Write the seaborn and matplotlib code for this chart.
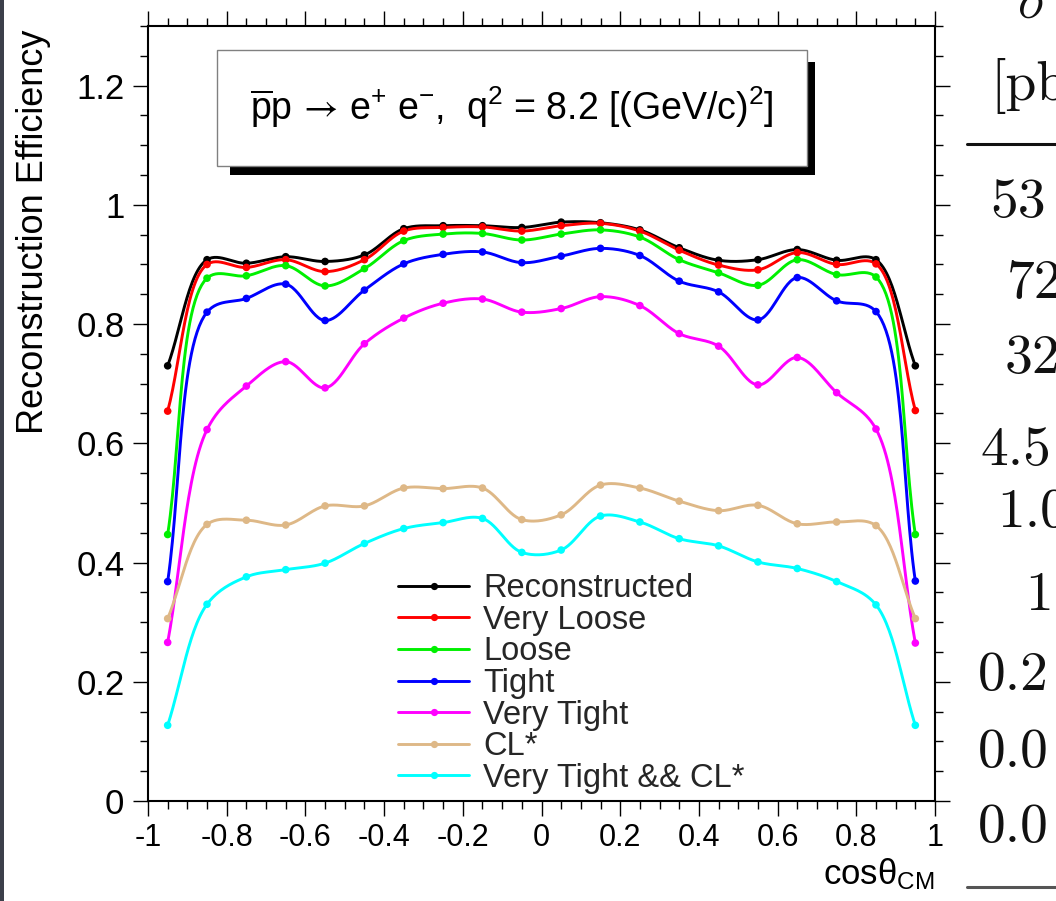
import numpy as np
import pandas as pd
import matplotlib
matplotlib.use("Agg")
import matplotlib.pyplot as plt
from matplotlib.lines import Line2D
from matplotlib.patches import Rectangle
from matplotlib.ticker import MultipleLocator, FuncFormatter
import seaborn as sns

# ---- data -------------------------------------------------------------
cos_theta = [-0.95, -0.85, -0.75, -0.65, -0.55, -0.45, -0.35, -0.25, -0.15, -0.05,
             0.05, 0.15, 0.25, 0.35, 0.45, 0.55, 0.65, 0.75, 0.85, 0.95]

reconstructed = [0.730, 0.908, 0.902, 0.913, 0.905, 0.916, 0.960, 0.965, 0.965, 0.962,
                 0.971, 0.970, 0.958, 0.928, 0.907, 0.908, 0.925, 0.907, 0.908, 0.730]
very_loose = [0.654, 0.900, 0.895, 0.908, 0.888, 0.908, 0.956, 0.962, 0.963, 0.956,
              0.965, 0.969, 0.956, 0.924, 0.899, 0.891, 0.920, 0.900, 0.901, 0.655]
loose = [0.447, 0.877, 0.881, 0.898, 0.864, 0.893, 0.940, 0.951, 0.952, 0.941,
         0.951, 0.958, 0.946, 0.908, 0.886, 0.865, 0.908, 0.883, 0.879, 0.447]
tight = [0.368, 0.820, 0.843, 0.867, 0.806, 0.857, 0.901, 0.917, 0.921, 0.903,
         0.914, 0.927, 0.915, 0.872, 0.854, 0.807, 0.878, 0.839, 0.821, 0.369]
very_tight = [0.266, 0.623, 0.696, 0.737, 0.693, 0.767, 0.810, 0.835, 0.842, 0.820,
              0.826, 0.846, 0.831, 0.784, 0.763, 0.698, 0.744, 0.685, 0.624, 0.265]
cl_star = [0.306, 0.464, 0.471, 0.463, 0.495, 0.495, 0.525, 0.524, 0.525, 0.472,
           0.480, 0.530, 0.525, 0.503, 0.487, 0.496, 0.465, 0.468, 0.462, 0.306]
very_tight_cl = [0.127, 0.330, 0.376, 0.388, 0.399, 0.432, 0.457, 0.467, 0.474, 0.417,
                 0.421, 0.478, 0.468, 0.440, 0.428, 0.401, 0.390, 0.368, 0.329, 0.127]

series_names = ["Reconstructed", "Very Loose", "Loose", "Tight", "Very Tight",
                "CL*", "Very Tight && CL*"]
series_values = [reconstructed, very_loose, loose, tight, very_tight, cl_star, very_tight_cl]
series_colors = ["#000000", "#ff0000", "#00f000", "#0000ff", "#ff00ff", "#deb887", "#00ffff"]

x_ticks = [-1, -0.8, -0.6, -0.4, -0.2, 0, 0.2, 0.4, 0.6, 0.8, 1]
y_ticks = [0, 0.2, 0.4, 0.6, 0.8, 1.0, 1.2]

# neighbouring table column (partially visible at the right edge)
table_rows = ["53", "72", "32", "4.5", "1.0", "1", "0.2", "0.0", "0.0"]

# ---- style -------------------------------------------------------------
sns.set_theme(style="ticks")
plt.rcParams["font.family"] = ["Liberation Sans", "DejaVu Sans"]
plt.rcParams["axes.unicode_minus"] = False
plt.rcParams["mathtext.fontset"] = "custom"
plt.rcParams["mathtext.rm"] = "Liberation Sans"
plt.rcParams["mathtext.it"] = "Liberation Sans:italic"
plt.rcParams["mathtext.bf"] = "Liberation Sans:bold"
plt.rcParams["mathtext.sf"] = "STIXGeneral"

W, H = 1056, 901
fig = plt.figure(figsize=(W / 100, H / 100), dpi=100)
fig.patch.set_facecolor("white")

ax_l, ax_r, ax_t, ax_b = 148, 935, 26, 801
ax = fig.add_axes([ax_l / W, (H - ax_b) / H, (ax_r - ax_l) / W, (ax_b - ax_t) / H])
ax.set_facecolor("white")
ax.set_xlim(-1, 1)
ax.set_ylim(0, 1.3)


def smooth_path(xs, ys, n=30, alpha=0.5):
    """Centripetal Catmull-Rom curve through the points, built in display space."""
    pts = ax.transData.transform(np.column_stack([xs, ys]))
    ext = np.vstack([2 * pts[0] - pts[1], pts, 2 * pts[-1] - pts[-2]])
    out = [pts[:1]]
    for i in range(1, len(ext) - 2):
        p0, p1, p2, p3 = ext[i - 1:i + 3]
        t0 = 0.0
        t1 = t0 + np.linalg.norm(p1 - p0) ** alpha
        t2 = t1 + np.linalg.norm(p2 - p1) ** alpha
        t3 = t2 + np.linalg.norm(p3 - p2) ** alpha
        t = np.linspace(t1, t2, n)[1:, None]
        a1 = (t1 - t) / (t1 - t0) * p0 + (t - t0) / (t1 - t0) * p1
        a2 = (t2 - t) / (t2 - t1) * p1 + (t - t1) / (t2 - t1) * p2
        a3 = (t3 - t) / (t3 - t2) * p2 + (t - t2) / (t3 - t2) * p3
        b1 = (t2 - t) / (t2 - t0) * a1 + (t - t0) / (t2 - t0) * a2
        b2 = (t3 - t) / (t3 - t1) * a2 + (t - t1) / (t3 - t1) * a3
        out.append((t2 - t) / (t2 - t1) * b1 + (t - t1) / (t2 - t1) * b2)
    curve = ax.transData.inverted().transform(np.vstack(out))
    return curve[:, 0], curve[:, 1]


points = pd.DataFrame(
    [(x, v, name) for name, vals in zip(series_names, series_values)
     for x, v in zip(cos_theta, vals)],
    columns=["cos_theta", "efficiency", "selection"],
)

for name, color in zip(series_names, series_colors):
    sub = points[points["selection"] == name]
    cx, cy = smooth_path(sub["cos_theta"].to_numpy(), sub["efficiency"].to_numpy())
    sns.lineplot(x=cx, y=cy, ax=ax, color=color, lw=2.1, sort=False,
                 estimator=None, legend=False, zorder=3)
    sns.scatterplot(data=sub, x="cos_theta", y="efficiency", ax=ax, color=color,
                    s=30, edgecolor="none", linewidth=0, legend=False, zorder=4)

# ---- axes ----------------------------------------------------------------
ax.set_xticks(x_ticks)
ax.set_yticks(y_ticks)
ax.xaxis.set_minor_locator(MultipleLocator(0.05))
ax.yaxis.set_minor_locator(MultipleLocator(0.05))
fmt = FuncFormatter(lambda v, pos: "%g" % round(v, 6))
ax.xaxis.set_major_formatter(fmt)
ax.yaxis.set_major_formatter(fmt)
ax.tick_params(axis="both", which="both", direction="out", color="black",
               top=True, right=True, labeltop=False, labelright=False)
ax.tick_params(axis="both", which="major", length=11, width=1.0, labelcolor="black")
ax.tick_params(axis="both", which="minor", length=5.5, width=1.0)
ax.tick_params(axis="x", which="major", pad=5, labelsize=22)
ax.tick_params(axis="y", which="major", pad=6, labelsize=25)
for side in ["left", "bottom", "top", "right"]:
    ax.spines[side].set_visible(True)
    ax.spines[side].set_color("black")
    ax.spines[side].set_linewidth(1.5)

ax.set_xlabel("")
ax.set_ylabel("")
fig.text(34 / W, 1 - 232 / H, "Reconstruction Efficiency", rotation=90,
         ha="center", va="center", fontsize=26, color="black")
fig.text(ax_r / W, 1 - 884 / H, r"cosθ$_{\mathrm{CM}}$", ha="right",
         va="baseline", fontsize=25, color="black")

# ---- title box with drop shadow ----------------------------------------------
def ax_frac(px, py):
    return (px - ax_l) / (ax_r - ax_l), (ax_b - py) / (ax_b - ax_t)

sx0, sy0 = ax_frac(230, 175)
sx1, sy1 = ax_frac(815, 62)
ax.add_patch(Rectangle((sx0, sy0), sx1 - sx0, sy1 - sy0, transform=ax.transAxes,
                       facecolor="black", edgecolor="none", zorder=5))
bx0, by0 = ax_frac(217, 166)
bx1, by1 = ax_frac(807, 50)
ax.add_patch(Rectangle((bx0, by0), bx1 - bx0, by1 - by0, transform=ax.transAxes,
                       facecolor="white", edgecolor="#808080", lw=1.0, zorder=6))
tx, ty = ax_frac(512, 107)
ax.text(tx, ty,
        r"$\overline{\mathrm{p}}\mathrm{p}\,\mathsf{\rightarrow}\,\mathrm{e}^{+}\ \mathrm{e}^{-}$,  "
        r"q$^{2}$ = 8.2 [(GeV/c)$^{2}$]",
        transform=ax.transAxes, ha="center", va="center", fontsize=27,
        color="black", zorder=7)

# ---- legend ----------------------------------------------------------------
handles = [Line2D([], [], color=c, lw=2.1, marker="o", markersize=5.2,
                  markeredgewidth=0) for c in series_colors]
lx, ly = ax_frac(398, 573)
ax.legend(handles, series_names, loc="upper left", bbox_to_anchor=(lx, ly),
          frameon=False, fontsize=23.5, borderpad=0, borderaxespad=0,
          handlelength=2.18, handletextpad=0.43, labelspacing=0.02)

# ---- neighbouring page content ---------------------------------------------
fig.patches.append(Rectangle((0, 0), 4 / W, 1, transform=fig.transFigure,
                             facecolor="#3c3f4a", edgecolor="none"))
table_x = [990, 1007, 1005, 980, 997, 1025, 978, 978, 978]
table_base = [217, 298, 373, 465, 527, 610, 690, 767, 842]
for txt, px, py in zip(table_rows, table_x, table_base):
    fig.text(px / W, 1 - py / H, txt, fontfamily="cmr10", fontsize=40,
             ha="left", va="baseline", color="#111111")
fig.text(990 / W, 1 - 100 / H, "[pb", fontfamily="cmr10", fontsize=40,
         ha="left", va="baseline", color="#111111")
fig.text(1017 / W, 1 - 18 / H, r"$\sigma$", fontsize=40, ha="left",
         va="baseline", color="#111111", math_fontfamily="cm")
fig.lines.append(Line2D([967 / W, 1], [1 - 144 / H, 1 - 144 / H],
                        transform=fig.transFigure, color="#111111", lw=2.2))
fig.lines.append(Line2D([967 / W, 1], [1 - 887 / H, 1 - 887 / H],
                        transform=fig.transFigure, color="#555555", lw=2.2))

fig.savefig("out.png", dpi=100, facecolor="white")
